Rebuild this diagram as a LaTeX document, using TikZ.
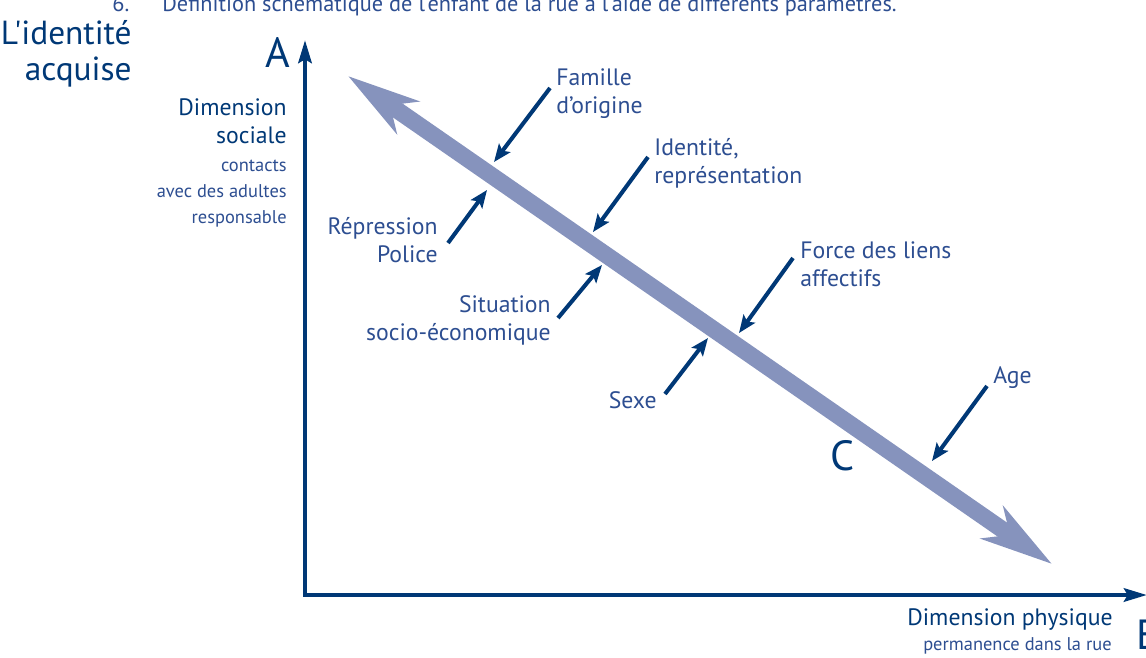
\documentclass[tikz,border=0pt]{standalone}
\usepackage{fontspec}
\setmainfont{PT Sans}[Ligatures=TeXOff]
\usetikzlibrary{arrows.meta}

\definecolor{navy}{RGB}{0,56,118}
\definecolor{labelblue}{RGB}{45,78,145}
\definecolor{bandblue}{RGB}{134,147,189}

\tikzset{
    axis/.style={draw=navy, line width=2.6pt, -{Stealth[length=13pt, width=7.5pt, inset=2pt]}},
    band/.style={draw=bandblue, line width=9.6pt,
        {Stealth[length=41pt, width=22pt, inset=12pt]}-{Stealth[length=41pt, width=22pt, inset=12pt]}},
    push/.style={draw=navy, line width=2.3pt, -{Stealth[length=10pt, width=8pt, inset=2pt]}},
    lbl/.style={text=labelblue, inner sep=0pt, font=\fontsize{13.5}{15.8}\selectfont},
    dimlbl/.style={text=navy, inner sep=0pt, align=right, font=\fontsize{13.5}{15.5}\selectfont},
    sublbl/.style={text=labelblue, inner sep=0pt, align=right, font=\fontsize{10.5}{14.8}\selectfont},
    letter/.style={text=navy, inner sep=0pt, font=\fontsize{24}{26}\selectfont}
}

\begin{document}
\begin{tikzpicture}[x=0.02cm, y=-0.02cm]
        \useasboundingbox (0,0) rectangle (1146,657);
        \clip (0,0) rectangle (1146,657);

        % Define nodes (multi-line nodes sit on their last baseline)
        \node[lbl, anchor=base west, font=\fontsize{12.7}{14}\selectfont] (titleno) at (112,11) {6.};
        \node[lbl, anchor=base west, font=\fontsize{12.7}{14}\selectfont] (title) at (162,11) {Définition schématique de l'enfant de la rue à l'aide de différents paramètres.};

        \node[letter, align=right, anchor=base east, font=\fontsize{19}{20}\selectfont] (ident) at (132,80) {L'identité\\acquise};
        \node[letter, anchor=base] (lA) at (278,67) {A};
        \node[letter, anchor=base] (lC) at (843,470) {C};
        \node[letter, anchor=base west] (lE) at (1136,649) {E};

        \node[dimlbl, anchor=base east] (dimsoc) at (287,143) {Dimension\\sociale};
        \node[sublbl, anchor=base east] (dimsocsub) at (287,223) {contacts\\avec des adultes\\responsable};
        \node[dimlbl, anchor=base east] (dimphy) at (1113,625) {Dimension physique};
        \node[sublbl, anchor=base east] (dimphysub) at (1112,650) {permanence dans la rue};

        \node[lbl, align=left, anchor=base west] (famille) at (556,113) {Famille\\d’origine};
        \node[lbl, align=left, anchor=base west] (identite) at (654,183) {Identité,\\représentation};
        \node[lbl, align=left, anchor=base west] (force) at (800,286) {Force des liens\\affectifs};
        \node[lbl, align=left, anchor=base west] (age) at (993,383) {Age};
        \node[lbl, align=right, anchor=base east] (repression) at (438,262) {Répression\\Police};
        \node[lbl, align=right, anchor=base east] (situation) at (551,340) {Situation\\socio-économique};
        \node[lbl, align=right, anchor=base east] (sexe) at (657,408) {Sexe};

        \coordinate (O) at (305,595);
        \coordinate (ytop) at (305,40);
        \coordinate (xend) at (1147,595);
        \coordinate (bandA) at (348,76);
        \coordinate (bandC) at (1052,564);

        \coordinate (famS) at (550,88);  \coordinate (famT) at (494,162);
        \coordinate (repS) at (448,243); \coordinate (repT) at (487,190);
        \coordinate (ideS) at (648,157); \coordinate (ideT) at (593,232);
        \coordinate (sitS) at (558,318); \coordinate (sitT) at (602,265);
        \coordinate (forS) at (793,258); \coordinate (forT) at (739,333);
        \coordinate (sexS) at (665,394); \coordinate (sexT) at (708,338);
        \coordinate (ageS) at (987,386); \coordinate (ageT) at (932,461);

        % Draw edges
        \draw[axis, line cap=rect] (O) -- (ytop);
        \draw[axis, line cap=rect] (O) -- (xend);
        \draw[band] (bandA) -- (bandC);

        \draw[push] (famS) -- (famT);
        \draw[push] (repS) -- (repT);
        \draw[push] (ideS) -- (ideT);
        \draw[push] (sitS) -- (sitT);
        \draw[push] (forS) -- (forT);
        \draw[push] (sexS) -- (sexT);
        \draw[push] (ageS) -- (ageT);
    \end{tikzpicture}
\end{document}
